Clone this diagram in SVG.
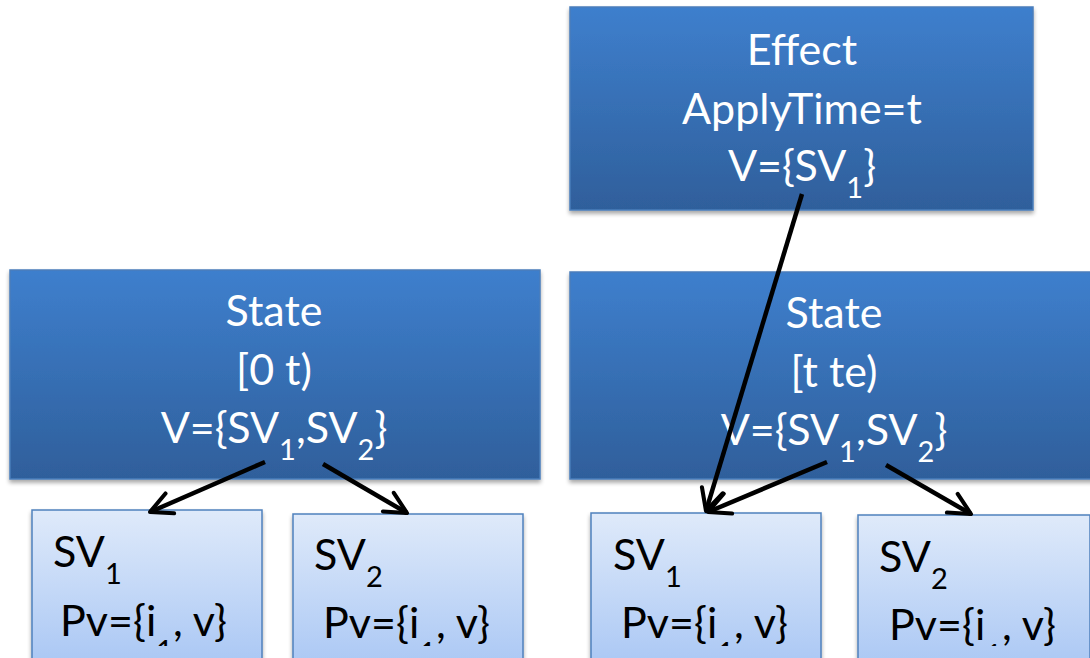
<svg xmlns="http://www.w3.org/2000/svg" width="1090" height="658" viewBox="0 0 1090 658">
<defs>
<linearGradient id="dark" x1="0" y1="0" x2="0" y2="1">
<stop offset="0" stop-color="#3e7fcd"/>
<stop offset="1" stop-color="#2f5f9b"/>
</linearGradient>
<linearGradient id="light" x1="0" y1="0" x2="0" y2="1">
<stop offset="0" stop-color="#dfeafa"/>
<stop offset="1" stop-color="#a8c6f4"/>
</linearGradient>
<filter id="sh" x="-5%" y="-5%" width="110%" height="115%">
<feGaussianBlur in="SourceAlpha" stdDeviation="2"/>
<feOffset dx="0" dy="3" result="b"/>
<feComponentTransfer><feFuncA type="linear" slope="0.35"/></feComponentTransfer>
<feMerge><feMergeNode/><feMergeNode in="SourceGraphic"/></feMerge>
</filter>
<clipPath id="clipPv"><rect x="0" y="0" width="1090" height="646"/></clipPath>
<marker id="arr" viewBox="0 0 10 10" refX="9" refY="5" markerWidth="6" markerHeight="6" orient="auto" markerUnits="strokeWidth">
<path d="M1,1 L9,5 L1,9" fill="none" stroke="#000" stroke-width="1.5" stroke-linecap="round" stroke-linejoin="round"/>
</marker>
</defs>
<style>
.big{fill:url(#dark);stroke:#4a7ebb;stroke-width:1.5;filter:url(#sh)}
.small{fill:url(#light);stroke:#4f81bd;stroke-width:1.5;filter:url(#sh)}
.tw{font-family:Lato,"Liberation Sans",sans-serif;font-size:43px;fill:#fff;text-anchor:middle}
.tb{font-family:Lato,"Liberation Sans",sans-serif;font-size:43px;fill:#000}
.sub{font-size:29px}
.pv{clip-path:url(#clipPv)}
.conn{stroke:#000;stroke-width:4.5;fill:none;marker-end:url(#arr)}
</style>
<rect width="1090" height="658" fill="#fff"/>

<g id="effect">
<rect class="big" x="570" y="7" width="463" height="203"/>
<text class="tw" x="802" y="65">Effect</text>
<text class="tw" x="802" y="124">ApplyTime=t</text>
<text class="tw" x="802" y="181">V={SV<tspan class="sub" dy="17">1</tspan><tspan dy="-17">}</tspan></text>
</g>

<g id="state1">
<rect class="big" x="10" y="270" width="530" height="209"/>
<text class="tw" x="274" y="326">State</text>
<text class="tw" x="274" y="385">[0 t)</text>
<text class="tw" x="274" y="443">V={SV<tspan class="sub" dy="17">1</tspan><tspan dy="-17">,SV</tspan><tspan class="sub" dy="17">2</tspan><tspan dy="-17">}</tspan></text>
</g>

<g id="state2">
<rect class="big" x="570" y="272" width="530" height="207"/>
<text class="tw" x="834" y="328">State</text>
<text class="tw" x="834" y="387">[t te)</text>
<text class="tw" x="834" y="445">V={SV<tspan class="sub" dy="17">1</tspan><tspan dy="-17">,SV</tspan><tspan class="sub" dy="17">2</tspan><tspan dy="-17">}</tspan></text>
</g>

<g id="sv1a">
<rect class="small" x="32" y="510" width="230" height="160"/>
<text class="tb" x="53" y="567">SV<tspan class="sub" dy="17">1</tspan></text>
<text class="tb pv" x="60" y="636">Pv={i<tspan class="sub" dy="25">1</tspan><tspan dy="-25">, v}</tspan></text>
</g>

<g id="sv2a">
<rect class="small" x="293" y="514" width="230" height="160"/>
<text class="tb" x="314" y="570">SV<tspan class="sub" dy="17">2</tspan></text>
<text class="tb pv" x="323" y="638">Pv={i<tspan class="sub" dy="25">1</tspan><tspan dy="-25">, v}</tspan></text>
</g>

<g id="sv1b">
<rect class="small" x="591" y="513" width="230" height="160"/>
<text class="tb" x="613" y="570">SV<tspan class="sub" dy="17">1</tspan></text>
<text class="tb pv" x="621" y="638">Pv={i<tspan class="sub" dy="25">1</tspan><tspan dy="-25">, v}</tspan></text>
</g>

<g id="sv2b">
<rect class="small" x="858" y="515" width="232" height="160"/>
<text class="tb" x="879" y="572">SV<tspan class="sub" dy="17">2</tspan></text>
<text class="tb pv" x="889" y="640">Pv={i<tspan class="sub" dy="25">1</tspan><tspan dy="-25">, v}</tspan></text>
</g>

<g id="connectors">
<line class="conn" x1="265" y1="462" x2="150" y2="512"/>
<line class="conn" x1="323" y1="464" x2="407" y2="513"/>
<line class="conn" x1="827" y1="462" x2="708" y2="512"/>
<line class="conn" x1="886" y1="465" x2="971" y2="514"/>
<line class="conn" x1="802" y1="194" x2="706" y2="511"/>
</g>
</svg>
